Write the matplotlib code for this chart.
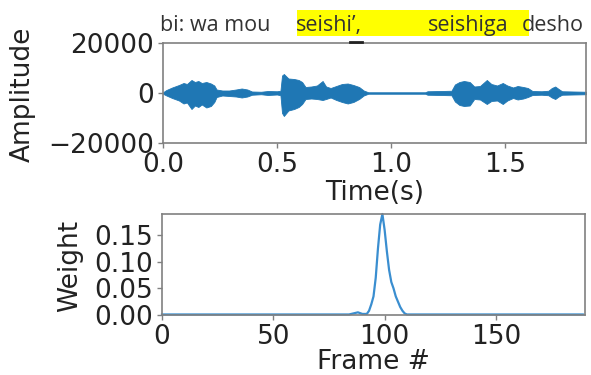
import matplotlib
matplotlib.use("Agg")
import matplotlib.pyplot as plt
from matplotlib.patches import Rectangle
from matplotlib.lines import Line2D

# ---- data: waveform envelope (time s, upper / lower amplitude) ----
wave_t = [0.000, 0.015, 0.040, 0.070, 0.090, 0.105, 0.125, 0.140, 0.155, 0.170,
          0.190, 0.210, 0.225, 0.235, 0.260, 0.290, 0.320, 0.345, 0.370, 0.390,
          0.430, 0.460, 0.500, 0.515, 0.522, 0.530, 0.550, 0.575, 0.595, 0.610,
          0.625, 0.650, 0.675, 0.700, 0.715, 0.735, 0.760, 0.785, 0.810, 0.835,
          0.860, 0.880, 0.900, 1.150, 1.160, 1.220, 1.265, 1.280, 1.300, 1.320,
          1.345, 1.365, 1.390, 1.420, 1.440, 1.465, 1.490, 1.510, 1.535, 1.555,
          1.580, 1.600, 1.620, 1.660, 1.690, 1.705, 1.720, 1.735, 1.750, 1.800,
          1.855]
wave_hi = [300, 1200, 2200, 3200, 4000, 3600, 5200, 4400, 4800, 4000,
           4400, 3800, 3000, 1400, 1000, 1000, 1400, 1800, 1400, 600,
           500, 800, 700, 900, 7000, 7600, 5800, 5600, 5200, 4400,
           2400, 2600, 3000, 4800, 2600, 2000, 2800, 3600, 3800, 3200,
           2400, 1000, 300, 300, 700, 800, 900, 3400, 4400, 4800,
           4400, 2600, 2800, 5200, 3600, 3000, 4000, 3000, 2200, 2800,
           2400, 2000, 800, 700, 900, 2000, 2600, 1600, 700, 600,
           500]
wave_lo = [-300, -1000, -2000, -3000, -4200, -3800, -6400, -5000, -5600, -4600,
           -5800, -5200, -3600, -1600, -1000, -1200, -1400, -1800, -1400, -700,
           -500, -800, -600, -900, -8000, -9200, -7000, -6400, -5600, -4400,
           -2400, -2200, -2400, -2800, -2400, -1800, -2800, -3600, -4200, -3600,
           -2400, -1000, -300, -300, -700, -800, -900, -3400, -4800, -5200,
           -5000, -2400, -2600, -4400, -3200, -3000, -4400, -3000, -2000, -2600,
           -2200, -1600, -800, -700, -900, -1800, -2400, -1400, -700, -600,
           -500]

# ---- data: attention weights ----
frames = [0, 84, 86, 88, 90, 92, 93, 94, 95, 96, 97, 98, 99, 100, 101, 102,
          103, 104, 105, 106, 107, 108, 109, 110, 112, 189]
weights = [0.001, 0.001, 0.003, 0.005, 0.002, 0.002, 0.008, 0.020, 0.035, 0.070,
           0.125, 0.170, 0.190, 0.160, 0.120, 0.085, 0.062, 0.050, 0.035, 0.025,
           0.015, 0.008, 0.003, 0.001, 0.001, 0.001]

time_ticks = [0.0, 0.5, 1.0, 1.5]
amp_ticks = [-20000, 0, 20000]
frame_ticks = [0, 50, 100, 150]
weight_ticks = [0.00, 0.05, 0.10, 0.15]

W, H = 591, 375
fig = plt.figure(figsize=(W / 100, H / 100), dpi=100)
fs = 19
spine_c = "#808080"

def px_axes(l, t, r, b):
    return fig.add_axes([l / W, 1 - b / H, (r - l) / W, (b - t) / H])

# ---- top: waveform ----
ax1 = px_axes(163, 43, 586, 143)
ax1.fill_between(wave_t, wave_lo, wave_hi, color="#1f77b4", linewidth=0.6,
                 edgecolor="#1f77b4")
ax1.set_xlim(0, 1.855)
ax1.set_ylim(-20000, 20000)
ax1.set_xticks(time_ticks)
ax1.set_yticks(amp_ticks)
ax1.set_xticklabels(["0.0", "0.5", "1.0", "1.5"])
ax1.set_yticklabels(["\u221220000", "0", "20000"])

# ---- bottom: weights ----
ax2 = px_axes(162, 214, 585, 315)
ax2.plot(frames, weights, color="#3a8ed0", linewidth=1.6, clip_on=False)
ax2.set_xlim(0, 190)
ax2.set_ylim(0, 0.19)
ax2.set_xticks(frame_ticks)
ax2.set_yticks(weight_ticks)
ax2.set_yticklabels(["0.00", "0.05", "0.10", "0.15"])

for ax in (ax1, ax2):
    ax.tick_params(labelsize=fs, labelcolor="#222222", color=spine_c,
                   length=3.5, width=1, pad=3)
    for s in ax.spines.values():
        s.set_color(spine_c)
        s.set_linewidth(1.2)

# axis labels
fig.text(23 / W, 1 - 94 / H, "Amplitude", rotation=90, ha="center", va="center",
         fontsize=fs, color="#222222")
fig.text(375 / W, 1 - 193 / H, "Time(s)", ha="center", va="center",
         fontsize=fs, color="#222222")
fig.text(70 / W, 1 - 266 / H, "Weight", rotation=90, ha="center", va="center",
         fontsize=fs, color="#222222")
fig.text(373 / W, 1 - 362 / H, "Frame #", ha="center", va="center",
         fontsize=fs, color="#222222")

# transcript header with highlight
fig.patches.append(Rectangle((297 / W, 1 - 36 / H), (529 - 297) / W, 26 / H,
                             transform=fig.transFigure, facecolor="#ffff00",
                             edgecolor="none", zorder=0))
tkw = dict(fontsize=15.5, color="#333333", family="Open Sans", va="baseline")
fig.text(160 / W, 1 - 31 / H, "bi: wa mou", **tkw)
fig.text(296 / W, 1 - 31 / H, "seishi\u2019,", **tkw)
fig.text(428 / W, 1 - 31 / H, "seishiga", **tkw)
fig.text(522 / W, 1 - 31 / H, "desho", **tkw)
fig.lines.append(Line2D([350 / W, 362 / W], [1 - 42 / H, 1 - 42 / H],
                        transform=fig.transFigure, color="#222222", linewidth=2))

fig.savefig("out.png", dpi=100)
